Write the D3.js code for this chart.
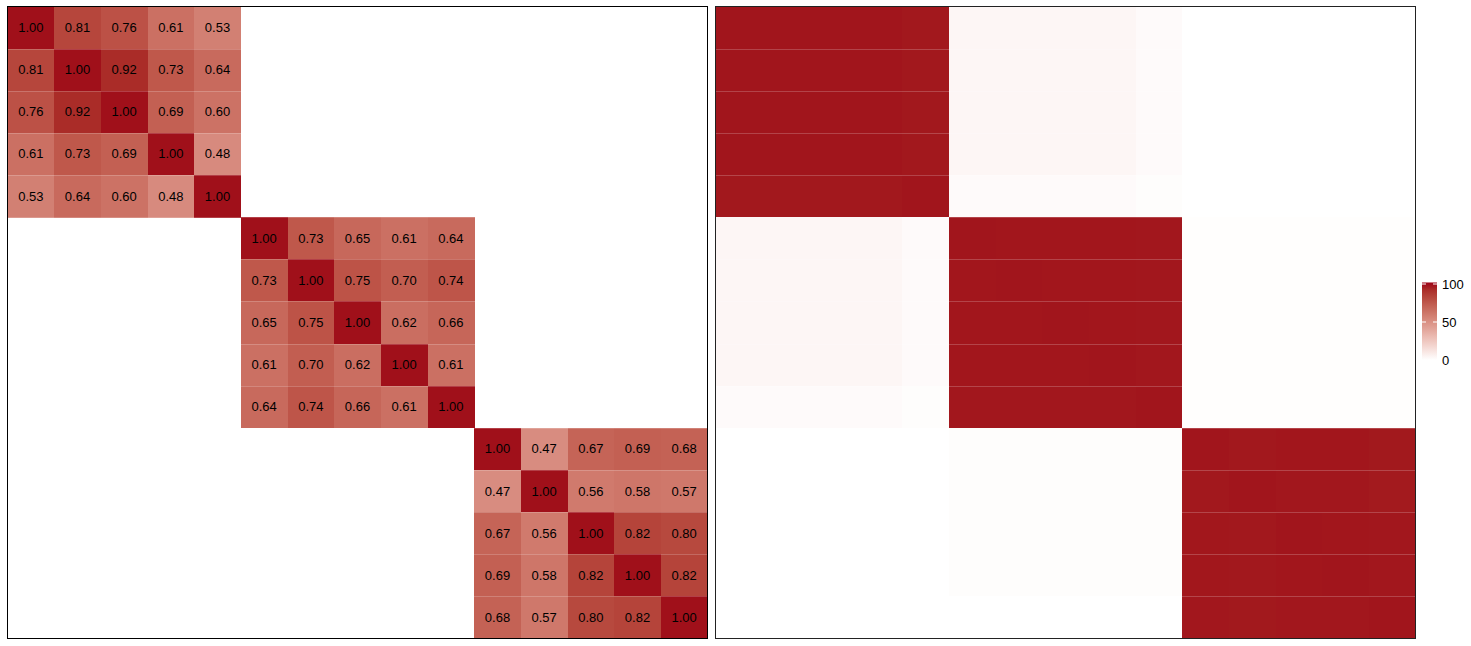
<!DOCTYPE html>
<html>
<head>
<meta charset="utf-8">
<script src="https://cdn.jsdelivr.net/npm/d3@7"></script>
<style>
  body { margin: 0; background: #fff; }
  svg { display: block; font-family: "Liberation Sans", Arial, sans-serif; }
</style>
</head>
<body>
<svg class="svg" width="1471" height="646"></svg>
<script>
// labels of the 15 variables (3 blocks of 5)
const vars = d3.range(15).map(i => "V" + (i + 1));

// correlation blocks (left panel)
const block1 = [
  [1.00, 0.81, 0.76, 0.61, 0.53],
  [0.81, 1.00, 0.92, 0.73, 0.64],
  [0.76, 0.92, 1.00, 0.69, 0.60],
  [0.61, 0.73, 0.69, 1.00, 0.48],
  [0.53, 0.64, 0.60, 0.48, 1.00]
];
const block2 = [
  [1.00, 0.73, 0.65, 0.61, 0.64],
  [0.73, 1.00, 0.75, 0.70, 0.74],
  [0.65, 0.75, 1.00, 0.62, 0.66],
  [0.61, 0.70, 0.62, 1.00, 0.61],
  [0.64, 0.74, 0.66, 0.61, 1.00]
];
const block3 = [
  [1.00, 0.47, 0.67, 0.69, 0.68],
  [0.47, 1.00, 0.56, 0.58, 0.57],
  [0.67, 0.56, 1.00, 0.82, 0.80],
  [0.69, 0.58, 0.82, 1.00, 0.82],
  [0.68, 0.57, 0.80, 0.82, 1.00]
];

// right panel values (0-100), one row per variable
const rightRows = [
  [99, 99, 99, 99, 98.3,  4, 4, 4, 4, 2,  0, 0, 0, 0, 0],
  [99, 99, 99, 99, 98.3,  4, 4, 4, 4, 2,  0, 0, 0, 0, 0],
  [99, 99, 99, 99, 98.3,  4, 4, 4, 4, 2,  0, 0, 0, 0, 0],
  [99, 99, 99, 99, 98.3,  4, 4, 4, 4, 2,  0, 0, 0, 0, 0],
  [98.3, 98.3, 98.3, 98.3, 99,  2, 2, 2, 2, 1,  0, 0, 0, 0, 0],
  [4, 4, 4, 4, 2,  99, 98.8, 98.8, 98.8, 98.5,  0.6, 0.6, 0.6, 0.6, 0.6],
  [4, 4, 4, 4, 2,  98.8, 99, 98.8, 98.8, 98.5,  0.6, 0.6, 0.6, 0.6, 0.6],
  [4, 4, 4, 4, 2,  98.8, 98.8, 99, 98.8, 98.5,  0.6, 0.6, 0.6, 0.6, 0.6],
  [4, 4, 4, 4, 2,  98.8, 98.8, 98.8, 99, 98.5,  0.6, 0.6, 0.6, 0.6, 0.6],
  [2, 2, 2, 2, 1,  98.5, 98.5, 98.5, 98.5, 99,  0.6, 0.6, 0.6, 0.6, 0.6],
  [0, 0, 0, 0, 0,  1, 1, 1, 1, 1,  99, 98.4, 98.8, 98.8, 98.2],
  [0, 0, 0, 0, 0,  1, 1, 1, 1, 1,  98.4, 99, 98.5, 98.5, 98],
  [0, 0, 0, 0, 0,  1, 1, 1, 1, 1,  98.7, 98.4, 99, 98.8, 98.5],
  [0, 0, 0, 0, 0,  1, 1, 1, 1, 1,  98.7, 98.4, 98.8, 99, 98.5],
  [0, 0, 0, 0, 0,  0, 0, 0, 0, 0,  98.5, 98.2, 98.6, 98.6, 99]
];

const legendTicks = [0, 50, 100];

const svg = d3.select(".svg");
const darkRed = "#a0101a";

// full 15x15 left matrix, only the blocks are filled
const blocks = [block1, block2, block3];
const leftCells = [];
const rightCells = [];
for (let i = 0; i < 15; i++) {
  for (let j = 0; j < 15; j++) {
    const bi = Math.floor(i / 5), bj = Math.floor(j / 5);
    if (bi === bj) leftCells.push({r: i, c: j, v: blocks[bi][i % 5][j % 5]});
    rightCells.push({r: i, c: j, v: rightRows[i][j]});
  }
}

const y = d3.scaleBand().domain(vars).range([6.5, 638.5]);
const xL = d3.scaleBand().domain(vars).range([7.5, 707.5]);
const xR = d3.scaleBand().domain(vars).range([715.5, 1415.5]);

const colL = d3.scaleLinear().domain([-0.1, 1]).range(["#ffffff", darkRed]).interpolate(d3.interpolateLab);
const colR = d3.scaleLinear().domain([0, 100]).range(["#ffffff", darkRed]).interpolate(d3.interpolateLab);

// left heatmap
const gL = svg.append("g");
gL.selectAll("rect")
  .data(leftCells)
  .enter()
  .append("rect")
  .attr("x", d => xL(vars[d.c]))
  .attr("y", d => y(vars[d.r]))
  .attr("width", xL.bandwidth() + 0.5)
  .attr("height", y.bandwidth() + 0.5)
  .attr("shape-rendering", "crispEdges")
  .attr("fill", d => colL(d.v));

gL.selectAll("text")
  .data(leftCells)
  .enter()
  .append("text")
  .text(d => d.v.toFixed(2))
  .attr("x", d => xL(vars[d.c]) + xL.bandwidth() / 2)
  .attr("y", d => y(vars[d.r]) + y.bandwidth() / 2)
  .attr("text-anchor", "middle")
  .attr("dominant-baseline", "central")
  .attr("font-size", 13)
  .attr("fill", "#000");

// right heatmap
const gR = svg.append("g");
gR.selectAll("rect")
  .data(rightCells)
  .enter()
  .append("rect")
  .attr("x", d => xR(vars[d.c]))
  .attr("y", d => y(vars[d.r]))
  .attr("width", xR.bandwidth() + 0.5)
  .attr("height", y.bandwidth() + 0.5)
  .attr("shape-rendering", "crispEdges")
  .attr("fill", d => colR(d.v));

// faint seams between rows
[[xL, gL], [xR, gR]].forEach(([x, g]) => {
  g.selectAll("line.seam")
    .data(vars.slice(1))
    .enter()
    .append("line")
    .attr("class", "seam")
    .attr("x1", x.range()[0])
    .attr("x2", x.range()[1])
    .attr("y1", d => Math.round(y(d)) + 0.5)
    .attr("y2", d => Math.round(y(d)) + 0.5)
    .attr("stroke", "#fff")
    .attr("stroke-opacity", 0.2);
});

// panel frames
svg.append("rect").attr("x", 7.5).attr("y", 6.5).attr("width", 700).attr("height", 632)
  .attr("fill", "none").attr("stroke", "#000");
svg.append("rect").attr("x", 715.5).attr("y", 6.5).attr("width", 700).attr("height", 632)
  .attr("fill", "none").attr("stroke", "#222");

// legend
const legY = d3.scaleLinear().domain([0, 100]).range([360, 284]);
const defs = svg.append("defs");
const grad = defs.append("linearGradient").attr("id", "legGrad")
  .attr("x1", 0).attr("y1", 1).attr("x2", 0).attr("y2", 0);
d3.range(0, 1.01, 0.1).forEach(t => {
  grad.append("stop").attr("offset", t).attr("stop-color", colR(t * 102));
});
svg.append("rect")
  .attr("x", 1422).attr("y", legY(102))
  .attr("width", 15).attr("height", legY(0) - legY(102))
  .attr("fill", "url(#legGrad)");

const legTickVals = legendTicks.filter(d => d > 0);
svg.selectAll("line.lt")
  .data(legTickVals.flatMap(v => [[v, 1422], [v, 1433]]))
  .enter()
  .append("line")
  .attr("class", "lt")
  .attr("x1", d => d[1]).attr("x2", d => d[1] + 4)
  .attr("y1", d => legY(d[0])).attr("y2", d => legY(d[0]))
  .attr("stroke", "#fff").attr("stroke-width", 1);

svg.selectAll("text.leg")
  .data(legendTicks)
  .enter()
  .append("text")
  .attr("class", "leg")
  .text(d => d)
  .attr("x", 1442)
  .attr("y", d => legY(d))
  .attr("dominant-baseline", "central")
  .attr("font-size", 13)
  .attr("fill", "#000");
</script>
</body>
</html>
